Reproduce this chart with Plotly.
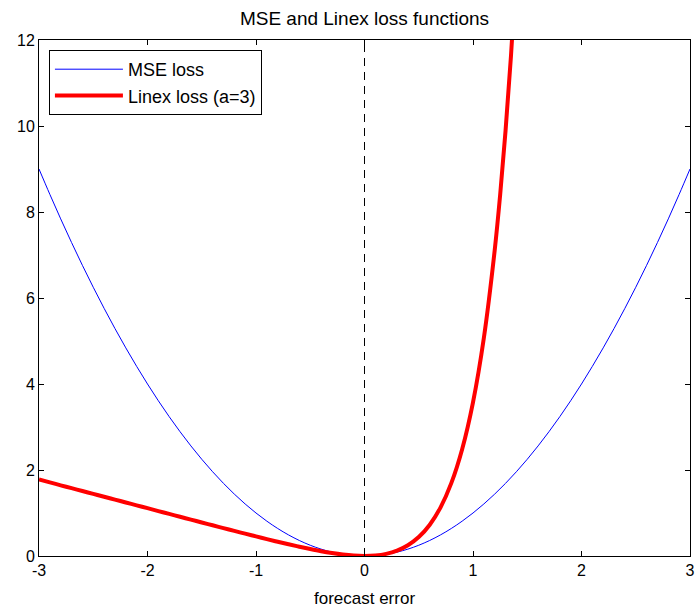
import plotly.graph_objects as go

# forecast error grid
err = [-3.0, -2.9, -2.8, -2.7, -2.6, -2.5, -2.4, -2.3, -2.2, -2.1,
       -2.0, -1.9, -1.8, -1.7, -1.6, -1.5, -1.4, -1.3, -1.2, -1.1,
       -1.0, -0.9, -0.8, -0.7, -0.6, -0.5, -0.4, -0.3, -0.2, -0.1,
       0.0, 0.1, 0.2, 0.3, 0.4, 0.5, 0.6, 0.7, 0.8, 0.9,
       1.0, 1.1, 1.2, 1.3, 1.4, 1.5, 1.6, 1.7, 1.8, 1.9,
       2.0, 2.1, 2.2, 2.3, 2.4, 2.5, 2.6, 2.7, 2.8, 2.9, 3.0]

mse_loss = [9.00, 8.41, 7.84, 7.29, 6.76, 6.25, 5.76, 5.29, 4.84, 4.41,
            4.00, 3.61, 3.24, 2.89, 2.56, 2.25, 1.96, 1.69, 1.44, 1.21,
            1.00, 0.81, 0.64, 0.49, 0.36, 0.25, 0.16, 0.09, 0.04, 0.01,
            0.00, 0.01, 0.04, 0.09, 0.16, 0.25, 0.36, 0.49, 0.64, 0.81,
            1.00, 1.21, 1.44, 1.69, 1.96, 2.25, 2.56, 2.89, 3.24, 3.61,
            4.00, 4.41, 4.84, 5.29, 5.76, 6.25, 6.76, 7.29, 7.84, 8.41, 9.00]

linex_err = [-3.0, -2.9, -2.8, -2.7, -2.6, -2.5, -2.4, -2.3, -2.2, -2.1,
             -2.0, -1.9, -1.8, -1.7, -1.6, -1.5, -1.4, -1.3, -1.2, -1.1,
             -1.0, -0.9, -0.8, -0.7, -0.6, -0.5, -0.4, -0.3, -0.2, -0.1,
             0.0, 0.1, 0.2, 0.3, 0.4, 0.5, 0.6, 0.7, 0.8, 0.9,
             1.0, 1.1, 1.2, 1.25, 1.3, 1.35, 1.4]

linex_loss = [1.778, 1.711, 1.644, 1.578, 1.511, 1.445, 1.378, 1.311, 1.245, 1.178,
              1.112, 1.045, 0.979, 0.912, 0.846, 0.780, 0.714, 0.649, 0.584, 0.519,
              0.456, 0.393, 0.331, 0.272, 0.215, 0.161, 0.111, 0.068, 0.033, 0.009,
              0.000, 0.011, 0.049, 0.124, 0.249, 0.440, 0.722, 1.126, 1.694, 2.484,
              3.575, 5.070, 7.111, 8.394, 9.889, 11.633, 13.664]

zero_x = [0, 0]
zero_y = [0, 12]

x_ticks = [-3, -2, -1, 0, 1, 2, 3]
y_ticks = [0, 2, 4, 6, 8, 10, 12]

FONT = "Liberation Sans, Arial, sans-serif"

fig = go.Figure()
fig.add_trace(go.Scatter(x=zero_x, y=zero_y, mode="lines",
                         line=dict(color="black", width=1, dash="8px,6px"),
                         showlegend=False, hoverinfo="skip"))
fig.add_trace(go.Scatter(x=err, y=mse_loss, mode="lines", name="MSE loss",
                         line=dict(color="#0000ff", width=1, shape="spline")))
fig.add_trace(go.Scatter(x=linex_err, y=linex_loss, mode="lines", name="Linex loss (a=3)",
                         line=dict(color="#ff0000", width=4, shape="spline")))

axis_common = dict(showline=True, linecolor="black", linewidth=1, mirror="ticks",
                   ticks="inside", ticklen=5, tickcolor="black", showgrid=False,
                   zeroline=False, tickfont=dict(family=FONT, size=16, color="black"))

fig.update_layout(
    width=700, height=610,
    margin=dict(l=39, r=5, t=40, b=54),
    paper_bgcolor="white", plot_bgcolor="white",
    font=dict(family=FONT, size=16, color="black"),
    title=dict(text="MSE and Linex loss functions", x=0.5, xref="paper",
               y=1 - 18 / 610, yref="container", yanchor="middle",
               font=dict(family=FONT, size=19, color="black")),
    xaxis=dict(range=[-3, 3], tickvals=x_ticks, ticktext=[str(v) for v in x_ticks],
               title=dict(text="forecast error", standoff=13,
                          font=dict(family=FONT, size=17, color="black")),
               **axis_common),
    yaxis=dict(range=[0, 12], tickvals=y_ticks, ticktext=[str(v) for v in y_ticks],
               **axis_common),
    legend=dict(x=10 / 656, y=(556 - 50) / 516, xanchor="left", yanchor="top",
                bordercolor="black", borderwidth=1, bgcolor="white",
                itemwidth=68, font=dict(family=FONT, size=18, color="black"),
                tracegroupgap=0),
    showlegend=True,
)

fig.write_html("out.html")
